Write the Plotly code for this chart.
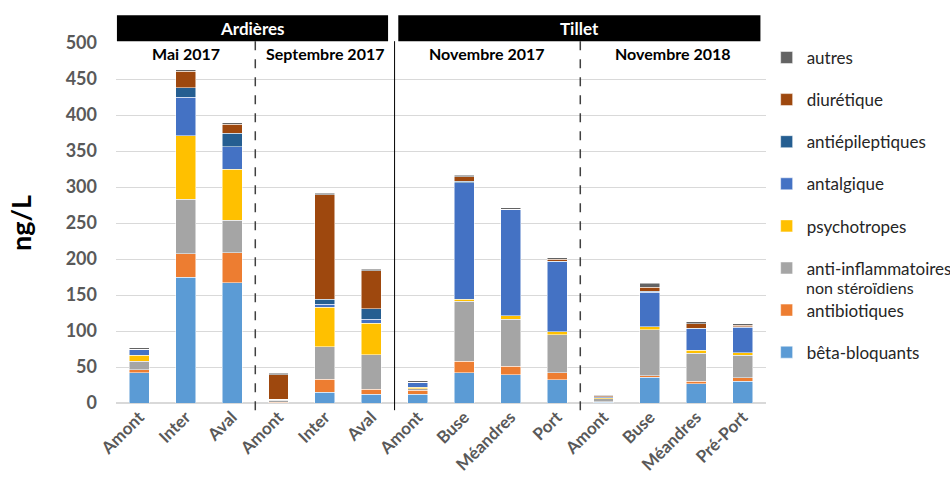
import plotly.graph_objects as go

# categories (sites) and their campaign groups
sites = ["Amont", "Inter", "Aval", "Amont", "Inter", "Aval",
         "Amont", "Buse", "Méandres", "Port",
         "Amont", "Buse", "Méandres", "Pré-Port"]
campaigns = ["Mai 2017", "Septembre 2017", "Novembre 2017", "Novembre 2018"]
campaign_sizes = [3, 3, 4, 4]
rivers = ["Ardières", "Tillet"]

# concentrations in ng/L, stacked bottom to top
beta_bloquants = [42, 175, 167, 0, 15, 12, 12, 42, 39, 32, 1, 36, 27, 30]
antibiotiques = [4, 32, 42, 1, 18, 7, 6, 16, 12, 10, 1, 2, 3, 5]
anti_inflammatoires = [12, 76, 45, 3, 45, 48, 2, 83, 65, 53, 4, 64, 39, 31]
psychotropes = [8, 88, 71, 1, 55, 44, 2, 3, 5, 4, 1, 4, 4, 4]
antalgique = [9, 54, 31, 0, 4, 5, 7, 162, 148, 97, 2, 48, 30, 35]
antiepileptiques = [0, 13, 19, 0, 7, 15, 0, 2, 0, 1, 0, 1, 1, 1]
diuretique = [0, 23, 12, 34, 145, 53, 0, 6, 0, 3, 1, 6, 6, 2]
autres = [2, 2, 2, 2, 2, 2, 2, 2, 2, 2, 1, 5, 3, 2]

series = [
    ("bêta-bloquants", beta_bloquants, "#5B9BD5"),
    ("antibiotiques", antibiotiques, "#ED7D31"),
    ("anti-inflammatoires", anti_inflammatoires, "#A5A5A5"),
    ("psychotropes", psychotropes, "#FFC000"),
    ("antalgique", antalgique, "#4472C4"),
    ("antiépileptiques", antiepileptiques, "#255E91"),
    ("diurétique", diuretique, "#9E480E"),
    ("autres", autres, "#636363"),
]

FONT = "Lato"
x = list(range(len(sites)))

fig = go.Figure()
for i, (name, vals, color) in enumerate(series):
    fig.add_trace(go.Bar(
        x=x, y=vals, name=name,
        marker=dict(color=color, line=dict(color="white", width=0.5)),
        legendgroup=name,
        legendrank=100 - i,  # autres on top, like the original
    ))

# plot area margins (pixels)
L, R, T, B = 116, 184, 43, 84

fig.update_layout(
    width=950, height=487,
    margin=dict(l=L, r=R, t=T, b=B),
    barmode="stack",
    bargap=0.57,
    plot_bgcolor="white",
    paper_bgcolor="white",
    font=dict(family=FONT, color="#595959"),
    legend=dict(
        traceorder="grouped",
        tracegroupgap=17,
        # placed in container coords so it doesn't shrink the plot area
        xref="container", yref="container",
        x=0.807, xanchor="left", y=0.918, yanchor="top",
        font=dict(family=FONT, size=17, color="#262626"),
        itemwidth=30,
        maxheight=460,
    ),
    xaxis=dict(
        tickmode="array", tickvals=x, ticktext=sites,
        tickangle=-45,
        tickfont=dict(family=FONT, size=17, color="#595959", weight="bold"),
        range=[-0.5, len(sites) - 0.5],
        showgrid=False, showline=False, zeroline=False,
        automargin=False,
    ),
    yaxis=dict(
        range=[0, 500], dtick=50,
        gridcolor="#D9D9D9", gridwidth=1,
        zeroline=True, zerolinecolor="#D9D9D9",
        tickfont=dict(family=FONT, size=18, color="#595959", weight="bold"),
        ticklabelstandoff=18,
        automargin=False,
        title=dict(text="ng/L", font=dict(family=FONT, size=27, color="black", weight="bold"),
                   standoff=26),
    ),
)

# second line of the anti-inflammatoires legend entry, tucked in like in Excel
fig.add_annotation(xref="paper", yref="paper", x=1.06, y=0.322,
                   xanchor="left", yanchor="middle", text="non stéroïdiens", showarrow=False,
                   borderpad=0, font=dict(family=FONT, size=16, color="#262626"))

# group separators: dashed between campaigns, solid between rivers
bounds = []
acc = 0
for s in campaign_sizes[:-1]:
    acc += s
    bounds.append(acc - 0.5)
for i, b in enumerate(bounds):
    solid = i == 1
    fig.add_shape(type="line", xref="x", yref="paper", x0=b, x1=b, y0=-0.02, y1=1.005,
                  line=dict(color="black" if solid else "#404040", width=1 if solid else 1.5,
                            dash="solid" if solid else "dash"))

# campaign labels
start = 0
for c, s in zip(campaigns, campaign_sizes):
    fig.add_annotation(x=start + (s - 1) / 2, y=486, xref="x", yref="y", text=c,
                       showarrow=False, font=dict(family=FONT, size=16, color="black", weight="bold"))
    start += s

# river header boxes
river_spans = [(-0.48, 5.36), (5.58, 13.38)]
for r, (a, b) in zip(rivers, river_spans):
    fig.add_shape(type="rect", xref="x", yref="paper", x0=a, x1=b, y0=1.005, y1=1.077,
                  fillcolor="black", line=dict(width=0))
    fig.add_annotation(x=(a + b) / 2, y=1.041, xref="x", yref="paper", yanchor="middle",
                       text=r, showarrow=False,
                       font=dict(family=FONT, size=17, color="white", weight="bold"))

# page has a default body margin that offsets the figure; remove it
fig.write_html("out.html", config={"displayModeBar": False},
               post_script="document.body.style.margin='0';")
